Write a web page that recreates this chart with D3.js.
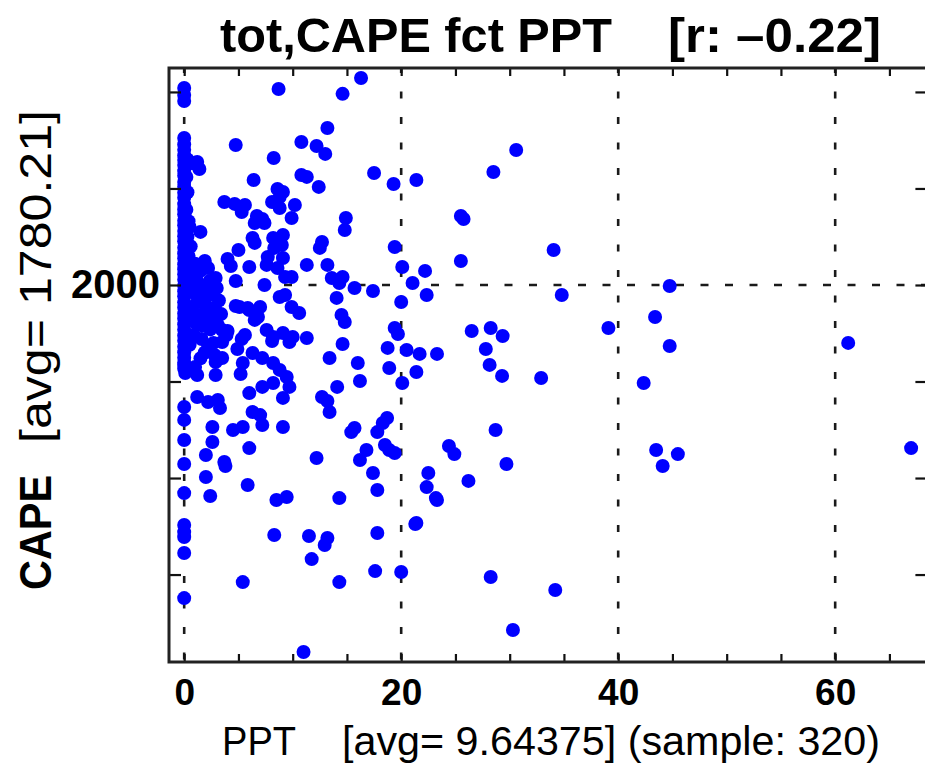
<!DOCTYPE html>
<html>
<head>
<meta charset="utf-8">
<script src="https://cdn.jsdelivr.net/npm/d3@7"></script>
<style>
  body { margin: 0; background: #fff; }
  svg { display: block; }
  text { font-family: "Liberation Sans", Arial, Helvetica, sans-serif; fill: #000; }
</style>
</head>
<body>
<svg id="chart" width="925" height="765"></svg>
<script>
// ---------------- data ----------------
const titleMain = "tot,CAPE fct PPT";
const titleCorr = "[r: \u20130.22]";
const xName = "PPT";
const xStats = "[avg= 9.64375] (sample: 320)";
const yName = "CAPE";
const yStats = "[avg= 1780.21]";

const xTickValues = [0, 5, 10, 15, 20, 25, 30, 35, 40, 45, 50, 55, 60, 65];
const xTickLabels = [0, 20, 40, 60];
const yTickValues = [500, 1000, 1500, 2000, 2500, 3000];
const yTickLabels = [2000];
const xGridValues = [0, 20, 40, 60];
const yGridValues = [2000];

// CAPE of samples with PPT = 0
const zeroRainCape = [3021, 2984, 2953, 2762, 2728, 2700, 2671, 2648, 2622, 2590, 2566, 2534, 2509,
  2478, 2452, 2419, 2391, 2366, 2333, 2309, 2280, 2252, 2226, 2193, 2165, 2139, 2108, 2082, 2055,
  2027, 1996, 1968, 1941, 1910, 1884, 1852, 1826, 1797, 1769, 1738, 1711, 1680, 1652, 1623, 1597,
  1566, 1586, 1368, 1301, 1197, 1073, 922, 757, 720, 694, 612, 378];

// [PPT, CAPE] light rain samples
const traceRain = [[0.1,1544],[0.3,2650],[0.8,2630],[0.2,2560],[0.3,2480],[0.2,2390],[0.4,2330],
  [0.5,2300],[0.3,2250],[0.6,2200],[0.4,2150],[1.0,2110],[0.7,2060],[1.1,2030],[0.6,1990],[0.9,1960],
  [1.2,1910],[0.5,1880],[0.8,1850],[1.1,1800],[0.9,1740],[0.5,1690],[1.0,1575],[1.2,1534],[1.2,1420],
  [1.2,2637],[1.4,2601],[1.5,2275],[1.5,2000],[1.5,1845],[1.5,2073]];

// [PPT, CAPE] other samples
const rainEvents = [
  [16.3,3072],[8.7,3015],[14.6,2990],[13.2,2813],[30.6,2699],[4.75,2725],[10.8,2741],[12.2,2720],
  [13.0,2679],[8.25,2658],[28.5,2585],[21.4,2544],
  [17.5,2580],[19.3,2523],[6.4,2544],[10.8,2570],[11.3,2560],[8.6,2497],[9.1,2482],[12.4,2508],
  [8.8,2456],[3.7,2430],[4.65,2420],[5.6,2414],[5.3,2378],[8.1,2430],[8.8,2399],[10.2,2414],[9.9,2347],[6.7,2357],
  [7.2,2342],[6.5,2321],[7.4,2321],[14.9,2347],[14.8,2285],[25.5,2357],[25.75,2342],[6.3,2244],[6.5,2218],
  [8.2,2244],[9.1,2259],[8.3,2192],[9.0,2207],[12.7,2223],[12.5,2192],[19.4,2197],[5.0,2181],[34.05,2181],[4.0,2135],
  [4.3,2098],[6.0,2093],[7.7,2145],[7.6,2104],[9.1,2140],[8.6,2088],[11.3,2104],[13.2,2104],[20.1,2093],[22.2,2073],
  [25.5,2124],[1.9,2124],[2.2,2088],[2.9,2036],[4.75,2021],[9.9,2041],[9.3,2041],[13.6,2036],[14.6,2041],
  [14.3,2010],[15.7,1984],[17.4,1969],[21.05,2010],[22.35,1948],[7.4,2000],[14.05,1933],[20.0,1912],[8.8,1938],[9.3,1948],
  [2.2,1984],[44.75,1995],[34.8,1948],[2.35,2021],[3.0,1984],
  [9.9,1886],[10.6,1855],[6.0,1870],[7.0,1886],[6.5,1819],[6.8,1834],[14.5,1845],[14.8,1808],[19.4,1777],[19.7,1746],
  [5.1,1886],[4.75,1891],[5.85,1881],[2.8,1881],[2.4,1813],[3.1,1793],[4.0,1762],[5.6,1741],[7.6,1767],
  [8.2,1731],[9.1,1751],[10.0,1731],[11.3,1725],[9.7,1705],[8.1,1710],[14.6,1694],[18.75,1674],[20.5,1663],[21.7,1643],
  [23.3,1643],[5.3,1720],[4.9,1668],[6.3,1648],[7.2,1622],[13.4,1622],[16.0,1596],[16.2,1503],[18.9,1570],[21.4,1549],
  [20.1,1492],[8.2,1596],[8.8,1560],[9.45,1523],[9.7,1472],[8.2,1492],[7.2,1472],[5.4,1596],[5.2,1539],[6.0,1440],
  [9.1,1415],[14.1,1472],[12.7,1420],[13.2,1399],[13.4,1342],[6.3,1342],[7.0,1326],[7.2,1275],[9.1,1264],[18.7,1311],
  [18.3,1285],[15.7,1259],[26.5,1762],[28.25,1777],[29.35,1736],[27.8,1668],[39.1,1777],[43.4,1834],[44.75,1684],[61.2,1700],
  [28.15,1586],[29.3,1529],[32.9,1518],[42.35,1492],[3.5,1767],[3.9,1741],[3.5,1705],[2.2,1674],[2.8,1637],[3.5,1622],
  [2.9,1601],[2.9,1534],[2.2,1394],[3.1,1404],[3.3,1363],
  [2.6,1264],[2.6,1187],[4.5,1249],[5.4,1264],[6.0,1155],[2.0,1119],
  [3.7,1083],[3.8,1062],[2.0,1005],[5.85,964],[2.4,907],
  [5.4,461],[11.0,99],[8.3,705],[11.5,700],[13.2,689],[12.95,653],[11.75,580],[14.3,461],[17.8,715],
  [17.6,518],[20.0,513],[21.4,767],[23.3,886],[8.5,886],[9.45,902],[14.3,896],[17.4,1026],[17.8,938],[22.5,1026],
  [22.35,953],[23.2,896],[18.5,1171],[18.9,1145],[19.4,1130],[16.8,1145],[16.2,1093],[12.2,1104],[15.4,1238],[17.8,1238],
  [24.4,1166],[24.9,1124],[28.7,1249],[29.7,1073],[26.2,985],[21.3,762],[43.5,1145],[45.5,1124],[44.1,1062],[67.0,1155],
  [28.25,487],[34.2,420],[30.3,213],
  [1.8,1960],[2.5,1950],[3.2,1920],[1.9,1900],[2.6,1860],[3.4,1850],[1.7,1790],[2.4,1770],[1.6,1720],[2.7,1700],
  [1.9,1650],[1.5,1620]
];

// ---------------- chart ----------------
const svg = d3.select("#chart");
svg.append("rect").attr("width", 925).attr("height", 765).attr("fill", "#fff");

const plotL = 169, plotR = 927.4, plotT = 68, plotB = 662;
const x = d3.scaleLinear().domain([-1.4, 68.5]).range([plotL, plotR]);
const y = d3.scaleLinear().domain([47, 3124]).range([plotB, plotT]);

const points = zeroRainCape.map(c => [0, c]).concat(traceRain, rainEvents);

// grid
const grid = svg.append("g").attr("stroke", "#1a1a1a").attr("stroke-width", 2.6).attr("fill", "none");
grid.selectAll("line.v").data(xGridValues).join("line").attr("class", "v")
  .attr("x1", d => x(d)).attr("x2", d => x(d))
  .attr("y1", plotT).attr("y2", plotB)
  .attr("stroke-dasharray", "7,18.5").attr("stroke-dashoffset", 2);
grid.selectAll("line.h").data(yGridValues).join("line").attr("class", "h")
  .attr("x1", plotL).attr("x2", plotR)
  .attr("y1", d => y(d)).attr("y2", d => y(d))
  .attr("stroke-dasharray", "8,16.5").attr("stroke-dashoffset", 7.5);

// dots
svg.append("g").selectAll("circle").data(points).join("circle")
  .attr("cx", d => x(d[0])).attr("cy", d => y(d[1]))
  .attr("r", 7).attr("fill", "#0000ff");

// axes
function styleAxis(g) {
  g.select(".domain").remove();
  g.selectAll(".tick line").attr("stroke", "#111").attr("stroke-width", 2.2);
}
const xb = svg.append("g").attr("transform", `translate(0,${plotB})`)
  .call(d3.axisBottom(x).tickValues(xTickValues).tickSizeInner(-8).tickSizeOuter(0).tickPadding(17)
    .tickFormat(d => xTickLabels.includes(d) ? d : ""));
styleAxis(xb);
xb.selectAll(".tick text").attr("font-size", 37).attr("font-weight", "bold")
  .attr("font-family", "Liberation Sans, Arial, sans-serif").attr("fill", "#000");

const xt = svg.append("g").attr("transform", `translate(0,${plotT})`)
  .call(d3.axisTop(x).tickValues(xTickValues).tickSizeInner(-8).tickSizeOuter(0).tickFormat(""));
styleAxis(xt);

const yl = svg.append("g").attr("transform", `translate(${plotL},0)`)
  .call(d3.axisLeft(y).tickValues(yTickValues).tickSizeInner(-12).tickSizeOuter(0).tickPadding(9)
    .tickFormat(d => yTickLabels.includes(d) ? d : ""));
styleAxis(yl);
yl.selectAll(".tick text").attr("font-size", 40).attr("font-weight", "bold")
  .attr("font-family", "Liberation Sans, Arial, sans-serif").attr("fill", "#000");

const yr = svg.append("g").attr("transform", `translate(${plotR},0)`)
  .call(d3.axisRight(y).tickValues(yTickValues).tickSizeInner(-12).tickSizeOuter(0).tickFormat(""));
styleAxis(yr);

// frame
svg.append("rect").attr("x", plotL).attr("y", plotT)
  .attr("width", plotR - plotL).attr("height", plotB - plotT)
  .attr("fill", "none").attr("stroke", "#222").attr("stroke-width", 3);

// title
svg.append("text").attr("x", 220).attr("y", 52).attr("font-size", 48).attr("font-weight", "bold")
  .attr("textLength", 392).attr("lengthAdjust", "spacingAndGlyphs").text(titleMain);
svg.append("text").attr("x", 668).attr("y", 52).attr("font-size", 48).attr("font-weight", "bold")
  .attr("textLength", 213).attr("lengthAdjust", "spacingAndGlyphs").text(titleCorr);

// x label
svg.append("text").attr("x", 222).attr("y", 755).attr("font-size", 40)
  .attr("textLength", 74).attr("lengthAdjust", "spacingAndGlyphs").text(xName);
svg.append("text").attr("x", 342).attr("y", 755).attr("font-size", 40)
  .attr("textLength", 538).attr("lengthAdjust", "spacingAndGlyphs").text(xStats);

// y label
svg.append("text").attr("transform", "translate(51,590) rotate(-90)")
  .attr("font-size", 44).attr("font-weight", "bold")
  .attr("textLength", 115).attr("lengthAdjust", "spacingAndGlyphs").text(yName);
svg.append("text").attr("transform", "translate(51,443) rotate(-90)")
  .attr("font-size", 44)
  .attr("textLength", 333).attr("lengthAdjust", "spacingAndGlyphs").text(yStats);
</script>
</body>
</html>
